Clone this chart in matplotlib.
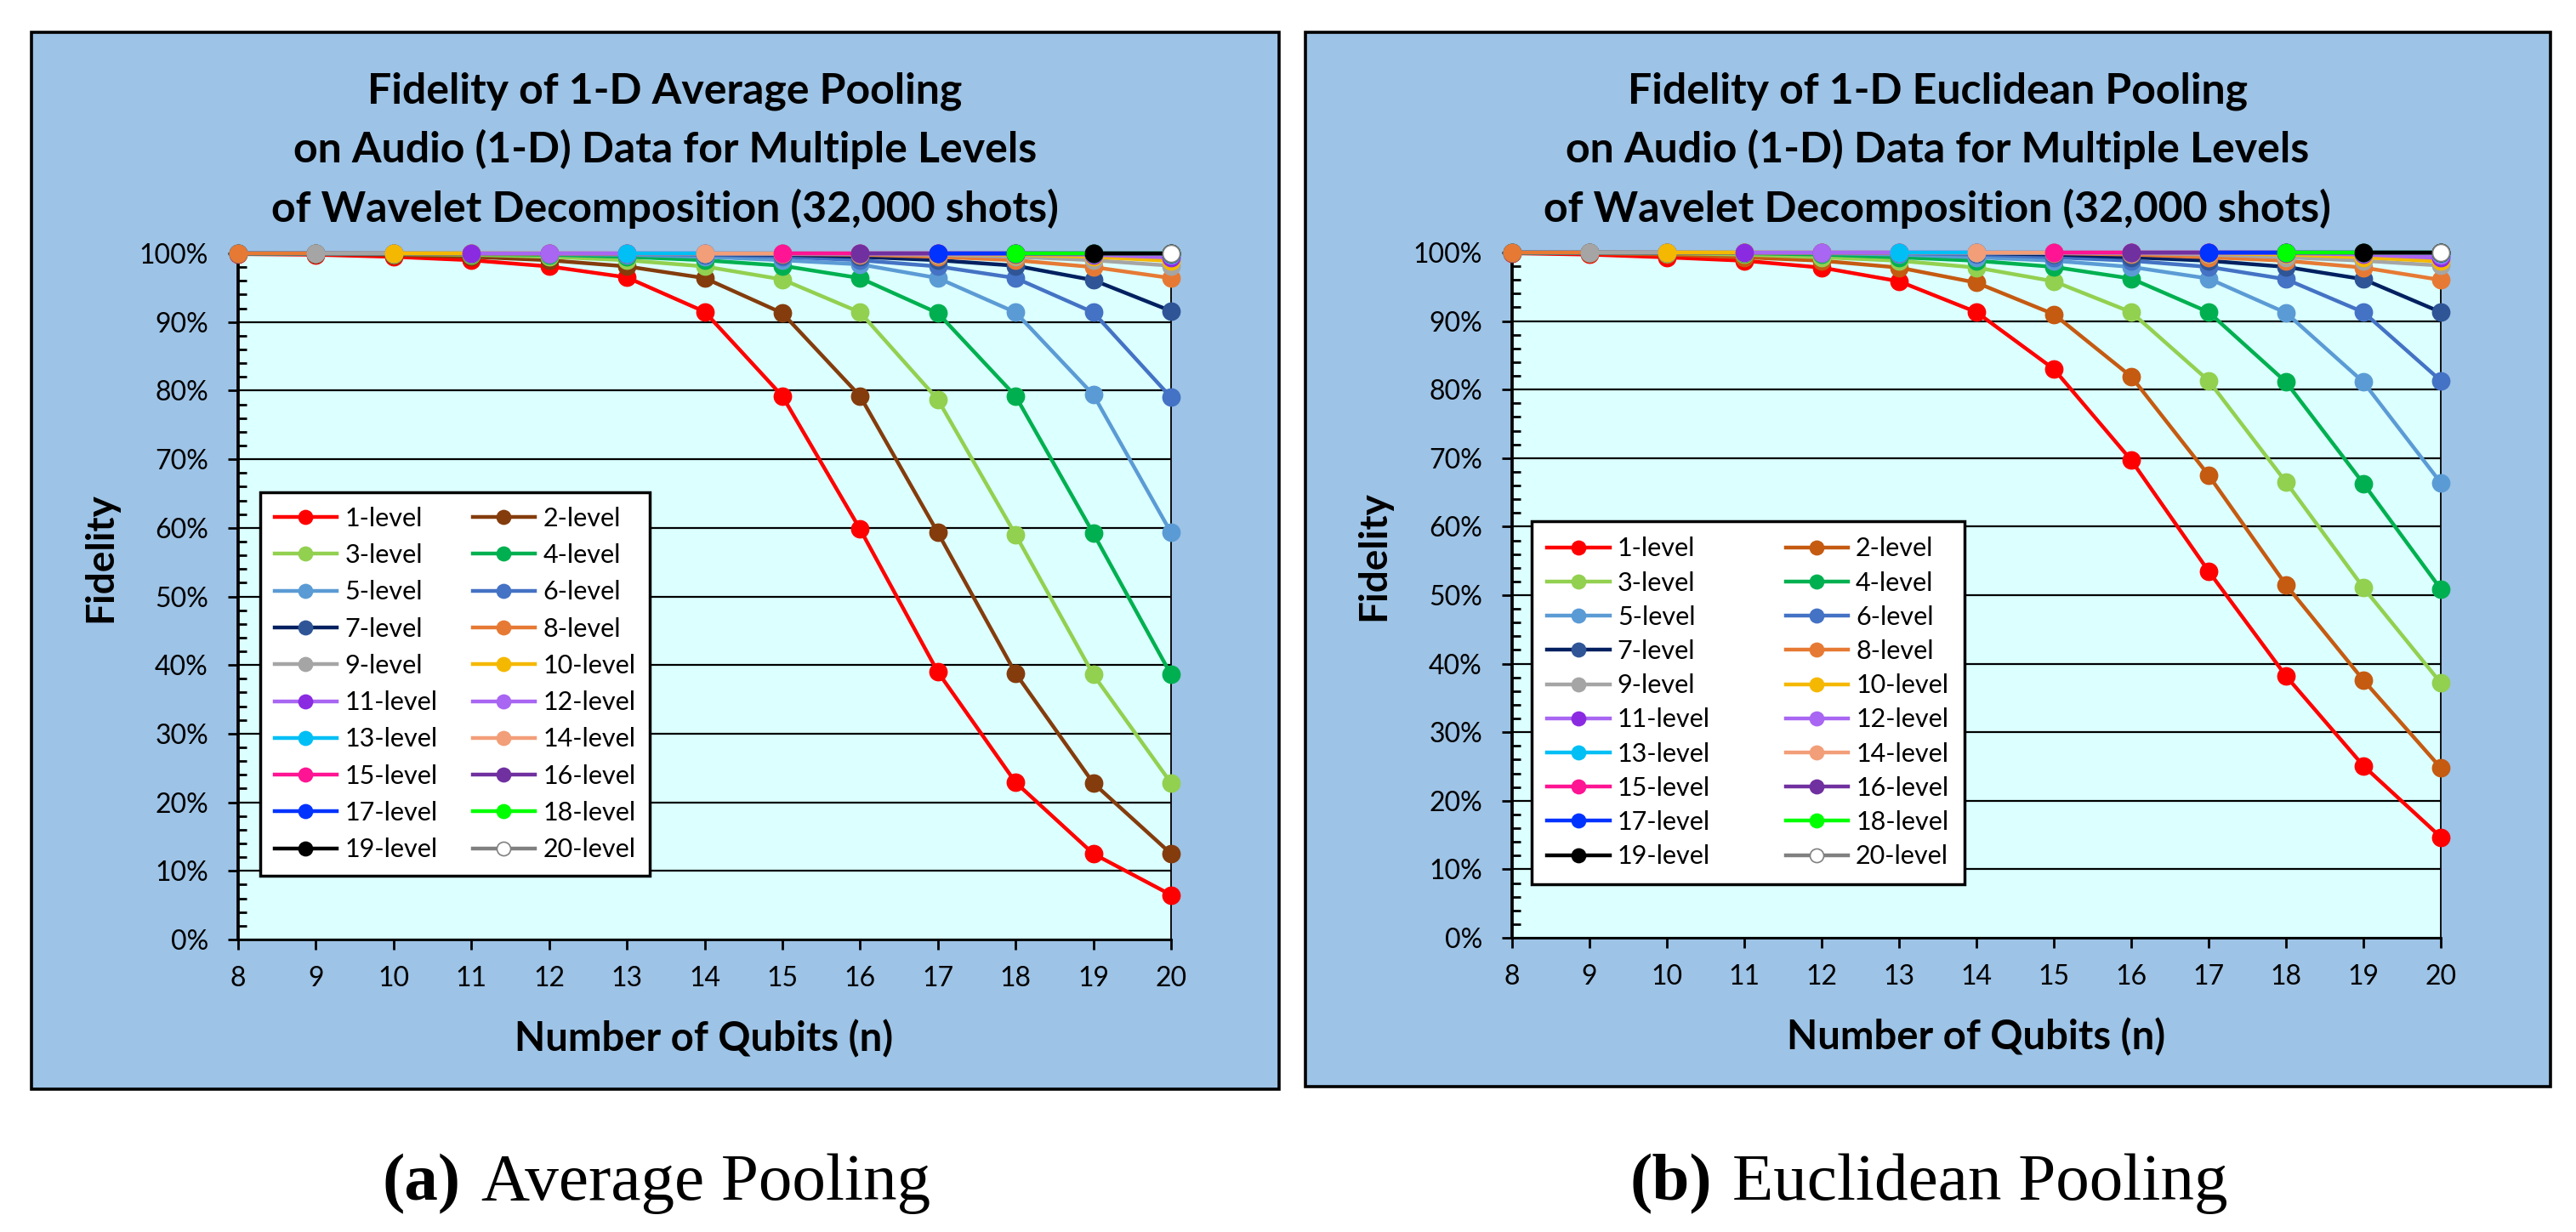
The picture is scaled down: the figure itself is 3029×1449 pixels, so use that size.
import numpy as np
import matplotlib
matplotlib.use('Agg')
import matplotlib.pyplot as plt
from matplotlib.patches import Rectangle
from matplotlib.ticker import MultipleLocator, FixedLocator, FixedFormatter

# ---------------- data ----------------
qubits = [8, 9, 10, 11, 12, 13, 14, 15, 16, 17, 18, 19, 20]
y_ticks = [0, 10, 20, 30, 40, 50, 60, 70, 80, 90, 100]
y_tick_labels = ['0%', '10%', '20%', '30%', '40%', '50%', '60%', '70%', '80%', '90%', '100%']
level_labels = ['1-level', '2-level', '3-level', '4-level', '5-level', '6-level', '7-level',
                '8-level', '9-level', '10-level', '11-level', '12-level', '13-level', '14-level',
                '15-level', '16-level', '17-level', '18-level', '19-level', '20-level']

# Average pooling fidelity (%), each series ends at n = 20 (series k starts at n = max(8, k))
avg_l01 = [99.9, 99.8, 99.5, 99.0, 98.1, 96.5, 91.5, 79.2, 59.8, 39.0, 22.9, 12.5, 6.5]
avg_l02 = [99.95, 99.9, 99.8, 99.5, 99.0, 98.1, 96.4, 91.3, 79.2, 59.3, 38.8, 22.8, 12.5]
avg_l03 = [99.97, 99.95, 99.9, 99.8, 99.5, 99.0, 98.1, 96.2, 91.4, 78.7, 59.0, 38.6, 22.8]
avg_l04 = [99.98, 99.97, 99.95, 99.9, 99.8, 99.5, 99.0, 98.2, 96.4, 91.3, 79.2, 59.2, 38.6]
avg_l05 = [99.99, 99.98, 99.97, 99.95, 99.9, 99.8, 99.5, 99.0, 98.4, 96.4, 91.4, 79.4, 59.3]
avg_l06 = [100.0, 99.99, 99.98, 99.97, 99.95, 99.9, 99.8, 99.5, 99.0, 98.1, 96.4, 91.4, 79.0]
avg_l07 = [100.0, 100.0, 99.99, 99.98, 99.97, 99.95, 99.9, 99.8, 99.5, 99.0, 98.2, 96.1, 91.6]
avg_l08 = [100.0, 100.0, 100.0, 99.99, 99.98, 99.97, 99.95, 99.9, 99.8, 99.5, 99.0, 98.0, 96.4]
avg_l09 = [100.0, 100.0, 100.0, 99.99, 99.98, 99.97, 99.95, 99.9, 99.8, 99.5, 99.0, 98.2]
avg_l10 = [100.0, 100.0, 100.0, 99.99, 99.98, 99.97, 99.95, 99.9, 99.8, 99.5, 98.9]
avg_l11 = [100.0, 100.0, 100.0, 99.99, 99.98, 99.97, 99.95, 99.9, 99.8, 99.4]
avg_l12 = [100.0, 100.0, 100.0, 99.99, 99.98, 99.97, 99.95, 99.9, 99.7]
avg_l13 = [100.0, 100.0, 100.0, 99.99, 99.98, 99.97, 99.95, 99.9]
avg_l14 = [100.0, 100.0, 100.0, 99.99, 99.98, 99.97, 99.95]
avg_l15 = [100.0, 100.0, 100.0, 99.99, 99.98, 99.97]
avg_l16 = [100.0, 100.0, 100.0, 99.99, 99.98]
avg_l17 = [100.0, 100.0, 100.0, 99.99]
avg_l18 = [100.0, 100.0, 100.0]
avg_l19 = [100.0, 100.0]
avg_l20 = [100.0]

# Euclidean pooling fidelity (%)
euc_l01 = [99.9, 99.7, 99.3, 98.8, 97.8, 95.8, 91.3, 83.0, 69.7, 53.5, 38.2, 25.1, 14.7]
euc_l02 = [99.95, 99.9, 99.7, 99.3, 98.8, 97.8, 95.6, 91.0, 81.9, 67.5, 51.5, 37.6, 24.8]
euc_l03 = [99.97, 99.95, 99.9, 99.7, 99.3, 98.8, 97.8, 95.8, 91.3, 81.3, 66.5, 51.1, 37.2]
euc_l04 = [99.98, 99.97, 99.95, 99.9, 99.7, 99.3, 98.8, 97.9, 96.2, 91.3, 81.1, 66.3, 50.9]
euc_l05 = [99.99, 99.98, 99.97, 99.95, 99.9, 99.7, 99.3, 98.8, 97.9, 96.2, 91.2, 81.1, 66.4]
euc_l06 = [100.0, 99.99, 99.98, 99.97, 99.95, 99.9, 99.7, 99.3, 98.8, 97.9, 96.1, 91.3, 81.3]
euc_l07 = [100.0, 100.0, 99.99, 99.98, 99.97, 99.95, 99.9, 99.7, 99.3, 98.8, 97.9, 96.1, 91.3]
euc_l08 = [100.0, 100.0, 100.0, 99.99, 99.98, 99.97, 99.95, 99.9, 99.7, 99.3, 98.8, 97.8, 96.0]
euc_l09 = [100.0, 100.0, 100.0, 99.99, 99.98, 99.97, 99.95, 99.9, 99.7, 99.3, 98.8, 98.1]
euc_l10 = [100.0, 100.0, 100.0, 99.99, 99.98, 99.97, 99.95, 99.9, 99.7, 99.3, 98.7]
euc_l11 = [100.0, 100.0, 100.0, 99.99, 99.98, 99.97, 99.95, 99.9, 99.7, 99.2]
euc_l12 = [100.0, 100.0, 100.0, 99.99, 99.98, 99.97, 99.95, 99.9, 99.6]
euc_l13 = [100.0, 100.0, 100.0, 99.99, 99.98, 99.97, 99.95, 99.9]
euc_l14 = [100.0, 100.0, 100.0, 99.99, 99.98, 99.97, 99.95]
euc_l15 = [100.0, 100.0, 100.0, 99.99, 99.98, 99.97]
euc_l16 = [100.0, 100.0, 100.0, 99.99, 99.98]
euc_l17 = [100.0, 100.0, 100.0, 99.99]
euc_l18 = [100.0, 100.0, 100.0]
euc_l19 = [100.0, 100.0]
euc_l20 = [100.0]

avg_series = [avg_l01, avg_l02, avg_l03, avg_l04, avg_l05, avg_l06, avg_l07, avg_l08, avg_l09, avg_l10,
              avg_l11, avg_l12, avg_l13, avg_l14, avg_l15, avg_l16, avg_l17, avg_l18, avg_l19, avg_l20]
euc_series = [euc_l01, euc_l02, euc_l03, euc_l04, euc_l05, euc_l06, euc_l07, euc_l08, euc_l09, euc_l10,
              euc_l11, euc_l12, euc_l13, euc_l14, euc_l15, euc_l16, euc_l17, euc_l18, euc_l19, euc_l20]

# ---------------- styles ----------------
line_colors = ['#FF0000', '#843C0C', '#92D050', '#00B050', '#5B9BD5', '#4472C4', '#002060',
               '#E67A34', '#A5A5A5', '#F5B800', '#A866F2', '#A866F2', '#00BFF5', '#F29E78',
               '#FF1493', '#7030A0', '#0033FF', '#00FF00', '#000000', '#808080']
marker_colors = ['#FF0000', '#843C0C', '#92D050', '#00B050', '#5B9BD5', '#4472C4', '#2F5597',
                 '#E67A34', '#A5A5A5', '#F5B800', '#8A2BE2', '#A866F2', '#00BFF5', '#F29E78',
                 '#FF1493', '#7030A0', '#0033FF', '#00FF00', '#000000', '#FFFFFF']
euc_line_colors = list(line_colors)
euc_line_colors[1] = '#C55A11'
euc_marker_colors = list(marker_colors)
euc_marker_colors[1] = '#C55A11'

plt.rcParams['font.family'] = ['Lato', 'DejaVu Sans']

W, H = 3029, 1449
DPI = 100
fig = plt.figure(figsize=(W / DPI, H / DPI), dpi=DPI)
fig.patch.set_facecolor('white')


def fx(px):
    return px / W


def fy(py):
    return 1 - py / H


PANEL_BG = '#9DC3E6'
PLOT_BG = '#DCFFFF'


def panel(box, axbox, series, lcols, mcols, titles, title_cx, ylab_xy, xlab_xy, leg_xy, leg_kw):
    x0, y0, x1, y1 = box
    rect = Rectangle((fx(x0), fy(y1)), fx(x1) - fx(x0), (y1 - y0) / H, transform=fig.transFigure,
                     facecolor=PANEL_BG, edgecolor='black', linewidth=2.6, zorder=-1)
    fig.add_artist(rect)
    ax0, ay0, ax1, ay1 = axbox
    ax = fig.add_axes([fx(ax0), fy(ay1), fx(ax1) - fx(ax0), (ay1 - ay0) / H])
    ax.set_facecolor(PLOT_BG)
    handles = []
    for vals, lc, mc, lab in zip(series, lcols, mcols, level_labels):
        xs = qubits[len(qubits) - len(vals):]
        mec = '#808080' if mc == '#FFFFFF' else mc
        h, = ax.plot(xs, vals, color=lc, lw=3.2, marker='o', ms=14.5, mfc=mc, mec=mec,
                     mew=1.2, label=lab, clip_on=False, zorder=3)
        handles.append(h)
    ax.set_xlim(8, 20)
    ax.set_ylim(0, 100)
    ax.xaxis.set_major_locator(FixedLocator(qubits))
    ax.yaxis.set_major_locator(FixedLocator(y_ticks))
    ax.yaxis.set_major_formatter(FixedFormatter(y_tick_labels))
    ax.yaxis.set_minor_locator(MultipleLocator(2))
    ax.tick_params(axis='y', which='major', direction='out', length=8.3, width=2, labelsize=23, pad=17)
    ax.tick_params(axis='y', which='minor', direction='in', length=7, width=2)
    ax.tick_params(axis='x', which='major', direction='out', length=8.3, width=2, labelsize=23, pad=14)
    ax.yaxis.grid(True, which='major', color='black', lw=1.6)
    ax.set_axisbelow(True)
    ax.spines['left'].set_linewidth(2.7)
    ax.spines['bottom'].set_linewidth(2.0)
    ax.spines['right'].set_linewidth(1.3)
    ax.spines['top'].set_visible(False)
    for k, t in enumerate(titles):
        fig.text(fx(title_cx), fy(121 + 70 * k), t, ha='center', va='baseline',
                 fontsize=36, fontweight='bold')
    fig.text(fx(ylab_xy[0]), fy(ylab_xy[1]), 'Fidelity', rotation=90, ha='center', va='center',
             fontsize=33, fontweight='bold')
    fig.text(fx(xlab_xy[0]), fy(xlab_xy[1]), 'Number of Qubits (n)', ha='center', va='center',
             fontsize=34, fontweight='bold')
    order = list(range(0, 20, 2)) + list(range(1, 20, 2))
    leg = ax.legend([handles[i] for i in order], [level_labels[i] for i in order], ncol=2,
                    loc='upper left', bbox_to_anchor=(fx(leg_xy[0]), fy(leg_xy[1])),
                    bbox_transform=fig.transFigure, borderaxespad=0, fancybox=False,
                    framealpha=1, edgecolor='black', fontsize=22, markerscale=0.8,
                    handletextpad=0.3, **leg_kw)
    leg.get_frame().set_linewidth(2.5)
    return ax


panel((37, 38, 1504, 1281), (280, 298, 1377, 1105), avg_series, line_colors, marker_colors,
      ['Fidelity of 1-D Average Pooling', 'on Audio (1-D) Data for Multiple Levels',
       'of Wavelet Decomposition (32,000 shots)'], 782, (118, 656), (828, 1222), (306, 579),
      dict(handlelength=2.4, columnspacing=1.35, labelspacing=0.5, borderpad=0.55))
panel((1535, 38, 2999, 1278), (1778, 297, 2870, 1103), euc_series, euc_line_colors, euc_marker_colors,
      ['Fidelity of 1-D Euclidean Pooling', 'on Audio (1-D) Data for Multiple Levels',
       'of Wavelet Decomposition (32,000 shots)'], 2278, (1615, 654), (2324, 1220), (1801, 613),
      dict(handlelength=2.4, columnspacing=2.9, labelspacing=0.4, borderpad=0.6))

# captions: bold "(x)" + regular text, centered
renderer = fig.canvas.get_renderer()
for lab, txt, cx in [('(a)', 'Average Pooling', 772), ('(b)', 'Euclidean Pooling', 2268)]:
    t1 = fig.text(0, fy(1411), lab, fontsize=57, fontweight='bold', family='Liberation Serif',
                  ha='left', va='baseline')
    t2 = fig.text(0, fy(1411), txt, fontsize=57, family='Liberation Serif', ha='left', va='baseline')
    w1 = t1.get_window_extent(renderer).width
    w2 = t2.get_window_extent(renderer).width
    gap = 24
    start = cx - (w1 + gap + w2) / 2
    t1.set_x(fx(start))
    t2.set_x(fx(start + w1 + gap))

fig.savefig('out.png', dpi=DPI, facecolor='white')
